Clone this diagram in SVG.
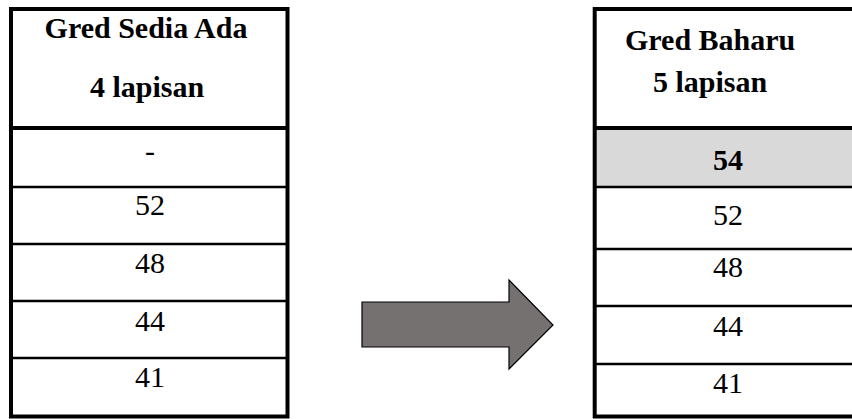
<svg xmlns="http://www.w3.org/2000/svg" width="852" height="419" viewBox="0 0 852 419">
<style>
.b{stroke:#000;stroke-width:4;fill:none}
.t{stroke:#000;stroke-width:2.5;fill:none}
.h{font-family:"Liberation Serif","Times New Roman",serif;font-size:30px;font-weight:bold;fill:#000}
.n{font-family:"Liberation Serif","Times New Roman",serif;font-size:30px;fill:#000;text-anchor:middle}
</style>
<rect width="852" height="419" fill="#fff"/>
<g id="old-table">
<rect x="11" y="9" width="276.5" height="407.5" class="b"/>
<line x1="11" y1="128" x2="287.5" y2="128" class="b"/>
<line x1="11" y1="187" x2="287.5" y2="187" class="t"/>
<line x1="11" y1="244" x2="287.5" y2="244" class="t"/>
<line x1="11" y1="301" x2="287.5" y2="301" class="t"/>
<line x1="11" y1="358" x2="287.5" y2="358" class="t"/>
<text x="146" y="38" class="h" text-anchor="middle">Gred Sedia Ada</text>
<text x="147" y="97" class="h" text-anchor="middle">4 lapisan</text>
<text x="150" y="161" class="n">-</text>
<text x="150" y="215" class="n">52</text>
<text x="150" y="273" class="n">48</text>
<text x="150" y="331" class="n">44</text>
<text x="150" y="387" class="n">41</text>
</g>
<g id="new-table">
<rect x="596" y="130" width="260" height="56" fill="#d9d9d9"/>
<polyline points="860,9 594.7,9 594.7,416.5 860,416.5" class="b"/>
<line x1="594.7" y1="128" x2="860" y2="128" class="b"/>
<line x1="594.7" y1="187" x2="860" y2="187" class="t"/>
<line x1="594.7" y1="249" x2="860" y2="249" class="t"/>
<line x1="594.7" y1="306" x2="860" y2="306" class="t"/>
<line x1="594.7" y1="364" x2="860" y2="364" class="t"/>
<text x="625" y="50" class="h">Gred Baharu</text>
<text x="653" y="92" class="h">5 lapisan</text>
<text x="728" y="170" class="n" font-weight="bold">54</text>
<text x="728" y="225" class="n">52</text>
<text x="728" y="277" class="n">48</text>
<text x="728" y="336" class="n">44</text>
<text x="728" y="393" class="n">41</text>
</g>
<g id="connectors">
<polygon id="arrow" points="362,302 509,302 509,280 553,325 509,369 509,347 362,347" fill="#767171" stroke="#000" stroke-width="1.2"/>
</g>
</svg>
